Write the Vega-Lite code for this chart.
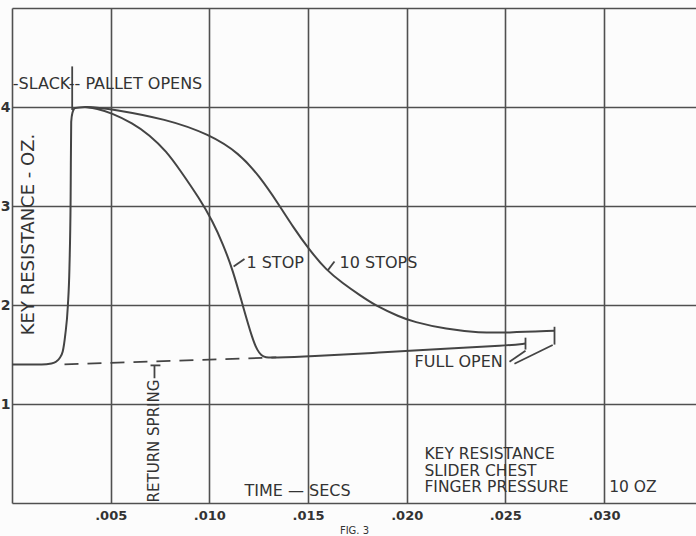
{
  "$schema": "https://vega.github.io/schema/vega-lite/v6.json",
  "width": 684,
  "height": 495,
  "autosize": {"type": "none"},
  "padding": {"left": 12, "top": 8, "right": 0, "bottom": 33},
  "background": "#fcfcfc",
  "config": {
    "view": {"stroke": null},
    "font": "DejaVu Sans"
  },
  "datasets": {
    "rise": [
      {"x": 0, "y": 1.40},
      {"x": 0.0015, "y": 1.40},
      {"x": 0.0020, "y": 1.41},
      {"x": 0.00225, "y": 1.43},
      {"x": 0.0024, "y": 1.46},
      {"x": 0.00257, "y": 1.53},
      {"x": 0.0027, "y": 1.70},
      {"x": 0.00283, "y": 1.99},
      {"x": 0.00291, "y": 2.37},
      {"x": 0.00297, "y": 3.06},
      {"x": 0.0030, "y": 3.85},
      {"x": 0.00306, "y": 3.94},
      {"x": 0.0032, "y": 3.99},
      {"x": 0.0037, "y": 4.0}
    ],
    "descent": [
      {"series": "1 STOP", "x": 0.0037, "y": 4.0},
      {"series": "1 STOP", "x": 0.0043, "y": 3.985},
      {"series": "1 STOP", "x": 0.00503, "y": 3.94},
      {"series": "1 STOP", "x": 0.00611, "y": 3.838},
      {"series": "1 STOP", "x": 0.00697, "y": 3.717},
      {"series": "1 STOP", "x": 0.00781, "y": 3.556},
      {"series": "1 STOP", "x": 0.00856, "y": 3.35},
      {"series": "1 STOP", "x": 0.0095, "y": 3.075},
      {"series": "1 STOP", "x": 0.01017, "y": 2.845},
      {"series": "1 STOP", "x": 0.01068, "y": 2.62},
      {"series": "1 STOP", "x": 0.01119, "y": 2.354},
      {"series": "1 STOP", "x": 0.0117, "y": 1.99},
      {"series": "1 STOP", "x": 0.0122, "y": 1.646},
      {"series": "1 STOP", "x": 0.01244, "y": 1.54},
      {"series": "1 STOP", "x": 0.01263, "y": 1.49},
      {"series": "1 STOP", "x": 0.01285, "y": 1.47},
      {"series": "1 STOP", "x": 0.01322, "y": 1.468},
      {"series": "1 STOP", "x": 0.01507, "y": 1.48},
      {"series": "1 STOP", "x": 0.01862, "y": 1.52},
      {"series": "1 STOP", "x": 0.022, "y": 1.56},
      {"series": "1 STOP", "x": 0.02504, "y": 1.59},
      {"series": "1 STOP", "x": 0.02602, "y": 1.61},
      {"series": "10 STOPS", "x": 0.0037, "y": 4.0},
      {"series": "10 STOPS", "x": 0.0043, "y": 3.995},
      {"series": "10 STOPS", "x": 0.00503, "y": 3.98},
      {"series": "10 STOPS", "x": 0.00781, "y": 3.879},
      {"series": "10 STOPS", "x": 0.01001, "y": 3.724},
      {"series": "10 STOPS", "x": 0.01153, "y": 3.53},
      {"series": "10 STOPS", "x": 0.01254, "y": 3.30},
      {"series": "10 STOPS", "x": 0.01347, "y": 3.03},
      {"series": "10 STOPS", "x": 0.01423, "y": 2.791},
      {"series": "10 STOPS", "x": 0.01507, "y": 2.556},
      {"series": "10 STOPS", "x": 0.01592, "y": 2.354},
      {"series": "10 STOPS", "x": 0.01676, "y": 2.219},
      {"series": "10 STOPS", "x": 0.01761, "y": 2.101},
      {"series": "10 STOPS", "x": 0.01845, "y": 1.99},
      {"series": "10 STOPS", "x": 0.01963, "y": 1.882},
      {"series": "10 STOPS", "x": 0.02031, "y": 1.831},
      {"series": "10 STOPS", "x": 0.022, "y": 1.755},
      {"series": "10 STOPS", "x": 0.02369, "y": 1.72},
      {"series": "10 STOPS", "x": 0.02504, "y": 1.72},
      {"series": "10 STOPS", "x": 0.02749, "y": 1.74}
    ],
    "dashed": [
      {"x": 0.00266, "y": 1.40},
      {"x": 0.01339, "y": 1.47}
    ],
    "rules": [
      {"x": 0.00305, "y": 3.97, "x2": 0.00305, "y2": 4.41},
      {"x": 0.00722, "y": 1.26, "x2": 0.00722, "y2": 1.39},
      {"x": 0.00702, "y": 1.39, "x2": 0.00752, "y2": 1.39},
      {"x": 0.02602, "y": 1.55, "x2": 0.02602, "y2": 1.67},
      {"x": 0.02749, "y": 1.60, "x2": 0.02749, "y2": 1.78},
      {"x": 0.01123, "y": 2.39, "x2": 0.01178, "y2": 2.465},
      {"x": 0.01600, "y": 2.35, "x2": 0.01634, "y2": 2.44},
      {"x": 0.02521, "y": 1.427, "x2": 0.02602, "y2": 1.538},
      {"x": 0.02546, "y": 1.406, "x2": 0.0274, "y2": 1.596}
    ],
    "notes": [
      {"x": 0.00004, "y": 4.23, "text": "-SLACK-"},
      {"x": 0.00317, "y": 4.23, "text": "- PALLET OPENS"},
      {"x": 0.01188, "y": 2.42, "text": "1 STOP"},
      {"x": 0.0166, "y": 2.42, "text": "10 STOPS"},
      {"x": 0.0204, "y": 1.42, "text": "FULL OPEN"},
      {"x": 0.01178, "y": 0.12, "text": "TIME — SECS"}
    ],
    "box": [
      {"x": 0.0209, "y": 0.495, "text": "KEY RESISTANCE"},
      {"x": 0.0209, "y": 0.328, "text": "SLIDER CHEST"},
      {"x": 0.0209, "y": 0.16, "text": "FINGER PRESSURE"},
      {"x": 0.03026, "y": 0.16, "text": "10 OZ"}
    ],
    "vertical": [
      {"x": 0.00722, "y": 0.626, "text": "RETURN SPRING"}
    ]
  },
  "encoding": {
    "x": {
      "field": "x",
      "type": "quantitative",
      "scale": {"domain": [0, 0.03466], "nice": false, "zero": false},
      "axis": {
        "values": [0, 0.005, 0.01, 0.015, 0.02, 0.025, 0.03],
        "labelExpr": "datum.value > 0.0001 ? replace(format(datum.value, '.3f'), '0.', '.') : ''",
        "grid": true,
        "gridColor": "#505050",
        "gridWidth": 1.6,
        "gridOpacity": 1,
        "domain": false,
        "ticks": false,
        "labelFont": "DejaVu Sans",
        "labelFontSize": 13,
        "labelFontWeight": "bold",
        "labelColor": "#333333",
        "labelPadding": 6,
        "labelBaseline": "top",
        "title": "FIG. 3",
        "titleFont": "DejaVu Sans",
        "titleFontSize": 10,
        "titleFontWeight": "normal",
        "titleColor": "#333333",
        "titlePadding": 3
      }
    },
    "y": {
      "field": "y",
      "type": "quantitative",
      "scale": {"domain": [0, 5], "nice": false, "zero": false},
      "axis": {
        "values": [0, 1, 2, 3, 4, 5],
        "labelExpr": "datum.value > 0 && datum.value < 5 ? datum.value : ''",
        "grid": true,
        "gridColor": "#505050",
        "gridWidth": 1.6,
        "gridOpacity": 1,
        "domain": false,
        "ticks": false,
        "labelFont": "DejaVu Sans",
        "labelFontSize": 14,
        "labelFontWeight": "bold",
        "labelColor": "#333333",
        "labelPadding": 2,
        "title": "KEY RESISTANCE - OZ.",
        "titleFont": "DejaVu Sans",
        "titleFontSize": 18,
        "titleFontWeight": "normal",
        "titleColor": "#333333",
        "titleX": 16,
        "titleY": 226,
        "titleAngle": 270,
        "titleAlign": "center",
        "titleBaseline": "middle"
      }
    }
  },
  "layer": [
    {
      "data": {"name": "rise"},
      "mark": {"type": "line", "interpolate": "monotone", "color": "#444444", "strokeWidth": 2},
      "encoding": {}
    },
    {
      "data": {"name": "descent"},
      "mark": {"type": "line", "interpolate": "basis", "color": "#444444", "strokeWidth": 2},
      "encoding": {"detail": {"field": "series"}}
    },
    {
      "data": {"name": "dashed"},
      "mark": {"type": "line", "color": "#444444", "strokeWidth": 1.8, "strokeDash": [14, 9]},
      "encoding": {}
    },
    {
      "data": {"name": "rules"},
      "mark": {"type": "rule", "color": "#444444", "strokeWidth": 1.8},
      "encoding": {
        "x2": {"field": "x2"},
        "y2": {"field": "y2"}
      }
    },
    {
      "data": {"name": "notes"},
      "mark": {"type": "text", "align": "left", "baseline": "middle", "fontSize": 16, "color": "#333333", "font": "DejaVu Sans"},
      "encoding": {"text": {"field": "text"}}
    },
    {
      "data": {"name": "box"},
      "mark": {"type": "text", "align": "left", "baseline": "middle", "fontSize": 15.5, "color": "#333333", "font": "DejaVu Sans"},
      "encoding": {"text": {"field": "text"}}
    },
    {
      "data": {"name": "vertical"},
      "mark": {"type": "text", "align": "center", "baseline": "middle", "angle": 270, "fontSize": 15, "color": "#333333", "font": "DejaVu Sans"},
      "encoding": {"text": {"field": "text"}}
    }
  ]
}
